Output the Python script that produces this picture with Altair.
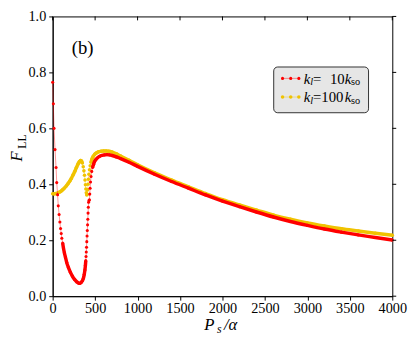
import altair as alt
import pandas as pd

# ---------------- data ----------------
red_x = [0, 8, 16, 28, 40, 48, 58, 66, 76, 85, 93, 101, 108, 118, 127, 138, 150, 165, 185, 208,
         232, 258, 285, 305, 320, 335, 350, 362, 372, 380, 386, 390, 393, 396, 399, 402, 405, 408, 411, 414,
         417, 420, 423, 428, 433, 437, 441, 446, 452, 460, 470, 482, 495, 510, 530, 555, 580, 610, 640, 670,
         700, 750, 800, 900, 1000, 1200, 1400, 1600, 1800, 2000, 2200, 2400, 2600, 2800, 3000, 3200, 3400, 3600, 3800, 4000]
red_y = [0.765, 0.688, 0.600, 0.524, 0.460, 0.406, 0.363, 0.323, 0.292, 0.265, 0.242, 0.224, 0.207, 0.190, 0.172, 0.155, 0.140, 0.121, 0.103, 0.086,
         0.072, 0.060, 0.051, 0.047, 0.046, 0.049, 0.055, 0.064, 0.078, 0.094, 0.111, 0.127, 0.142, 0.158, 0.175, 0.195, 0.215, 0.235, 0.255, 0.275,
         0.297, 0.318, 0.336, 0.342, 0.345, 0.365, 0.386, 0.408, 0.428, 0.446, 0.460, 0.472, 0.482, 0.489, 0.495, 0.500, 0.503, 0.505, 0.506, 0.505,
         0.503, 0.498, 0.492, 0.479, 0.464, 0.436, 0.410, 0.386, 0.362, 0.340, 0.320, 0.301, 0.283, 0.267, 0.253, 0.240, 0.229, 0.219, 0.210, 0.201]

yellow_x = [0, 20, 40, 60, 80, 100, 120, 140, 160, 180, 200, 220, 240, 260, 280, 300, 315, 328, 340, 350,
            360, 368, 375, 381, 386, 391, 396, 401, 406, 411, 416, 421, 427, 434, 442, 452, 464, 478, 495, 515,
            540, 570, 600, 630, 660, 700, 750, 800, 900, 1000, 1200, 1400, 1600, 1800, 2000, 2200, 2400, 2600, 2800, 3000,
            3200, 3400, 3600, 3800, 4000]
yellow_y = [0.366, 0.366, 0.367, 0.369, 0.372, 0.376, 0.381, 0.387, 0.394, 0.402, 0.411, 0.421, 0.433, 0.446, 0.460, 0.473, 0.481, 0.485, 0.483, 0.476,
            0.463, 0.448, 0.432, 0.415, 0.398, 0.383, 0.370, 0.362, 0.364, 0.380, 0.400, 0.418, 0.436, 0.452, 0.466, 0.479, 0.491, 0.500, 0.507, 0.512,
            0.516, 0.518, 0.519, 0.519, 0.518, 0.515, 0.509, 0.501, 0.486, 0.470, 0.441, 0.415, 0.391, 0.367, 0.345, 0.326, 0.308, 0.290, 0.275, 0.262,
            0.251, 0.241, 0.233, 0.225, 0.218]

x_ticks = [0, 500, 1000, 1500, 2000, 2500, 3000, 3500, 4000]
y_ticks = [0.0, 0.2, 0.4, 0.6, 0.8, 1.0]
series_labels = ["10", "100"]

RED = "#ff0000"
YEL = "#f0c300"
SERIF = "Liberation Serif, DejaVu Serif, serif"
W, H = 346, 285
TOP = 5.5

df_red = pd.DataFrame({"x": red_x, "y": red_y})
df_yel = pd.DataFrame({"x": yellow_x, "y": yellow_y})
df_xt = pd.DataFrame({"x": x_ticks})
df_yt = pd.DataFrame({"y": y_ticks})
one = alt.Data(values=[{"a": 1}])

xscale = alt.Scale(domain=[0, 4000], nice=False)
yscale = alt.Scale(domain=[0, 1], nice=False)
xaxis = alt.Axis(values=x_ticks, title=None, format="d", labelFlush=False, labelPadding=2)
yaxis = alt.Axis(values=y_ticks, title=None, format=".1f", labelFlush=False)
X = alt.X("x:Q", scale=xscale, axis=xaxis)
Y = alt.Y("y:Q", scale=yscale, axis=yaxis)


def series_layers(df, color, thick_filter, seg_expr, psize):
    base = alt.Chart(df).encode(x=X, y=Y)
    thin = base.mark_line(color=color, strokeWidth=0.7, opacity=0.6)
    thick = base.transform_calculate(seg=seg_expr).transform_filter(thick_filter).mark_line(
        color=color, strokeWidth=3.5, interpolate="monotone"
    ).encode(detail="seg:N")
    pts = base.mark_circle(color=color, size=psize, opacity=1)
    return [thin, thick, pts]


yel_layers = series_layers(df_yel, YEL, "datum.x <= 352 || datum.x >= 445",
                           "datum.x < 400 ? 0 : 1", 13)
red_layers = series_layers(df_red, RED, "(datum.x >= 110 && datum.x <= 390) || datum.x >= 468",
                           "datum.x < 430 ? 0 : 1", 10)

top_ticks = alt.Chart(df_xt).mark_rule(color="black", strokeWidth=1).encode(
    x=X, y=alt.value(0), y2=alt.value(4))
right_ticks = alt.Chart(df_yt).mark_rule(color="black", strokeWidth=1).encode(
    y=Y, x=alt.value(W), x2=alt.value(W + 4))


def txt(s, x, y, size, italic=False, align="left", angle=0):
    kw = dict(font=SERIF, fontSize=size, align=align, baseline="middle", color="black")
    if italic:
        kw["fontStyle"] = "italic"
    if angle:
        kw["angle"] = angle
    return alt.Chart(one).mark_text(**kw).encode(x=alt.value(x), y=alt.value(y), text=alt.value(s))


panel = txt("(b)", 30.5, 32.5, 19, align="center")

# legend box (positions relative to the plot area)
LY = 51.5
leg_box = alt.Chart(one).mark_rect(fill="#e6e6e6", stroke="black", strokeWidth=0.8, cornerRadius=4).encode(
    x=alt.value(225.2), x2=alt.value(321.8), y=alt.value(LY), y2=alt.value(LY + 46.6))

legend_layers = [leg_box]
for color, yy, psize in [(RED, LY + 11.6, 10), (YEL, LY + 30.6, 13)]:
    legend_layers.append(alt.Chart(one).mark_rule(color=color, strokeWidth=0.7, opacity=0.6).encode(
        x=alt.value(234.2), x2=alt.value(250.8), y=alt.value(yy)))
    for xx in [234.2, 242.5, 250.8]:
        legend_layers.append(alt.Chart(one).mark_circle(color=color, size=psize, opacity=1).encode(
            x=alt.value(xx), y=alt.value(yy)))

for lab, yy in zip(series_labels, [LY + 12.3, LY + 31.1]):
    legend_layers.append(txt("k", 255.8, yy, 15, italic=True))
    legend_layers.append(txt("l", 262.4, yy + 3.2, 10.5, italic=True))
    if lab == "10":
        legend_layers.append(txt("=", 265.2, yy, 15))
        legend_layers.append(txt(lab, 282.5, yy, 15))
    else:
        legend_layers.append(txt("=" + lab, 265.2, yy, 15))
    legend_layers.append(txt("k", 297.5, yy, 15, italic=True))
    legend_layers.append(txt("so", 304.0, yy + 3.2, 10.5))

# axis titles
XT = H + 29
titles = [
    txt("P", 154.5, XT, 17, italic=True),
    txt("s", 167.5, XT + 4.5, 12, italic=True),
    txt("/α", 174.5, XT, 17, italic=True),
    txt("F", -36.0, 142.5, 17, italic=True, align="center", angle=270),
    txt("LL", -31.0, 127.5, 12, align="center", angle=270),
]

chart = alt.layer(
    *yel_layers, *red_layers, top_ticks, right_ticks, panel, *legend_layers, *titles
).properties(
    width=W, height=H,
    autosize=alt.AutoSizeParams(type="none"),
    padding={"left": 45.5, "top": TOP, "right": 16, "bottom": 40},
).configure_view(
    stroke="black", strokeWidth=1
).configure_axis(
    domainColor="black", domainWidth=1, tickColor="black", tickWidth=1, tickSize=4,
    labelColor="black", labelFont=SERIF, labelFontSize=14.5, labelPadding=3, grid=False
)

chart.save("out.html", embed_options={"renderer": "svg", "actions": False})
